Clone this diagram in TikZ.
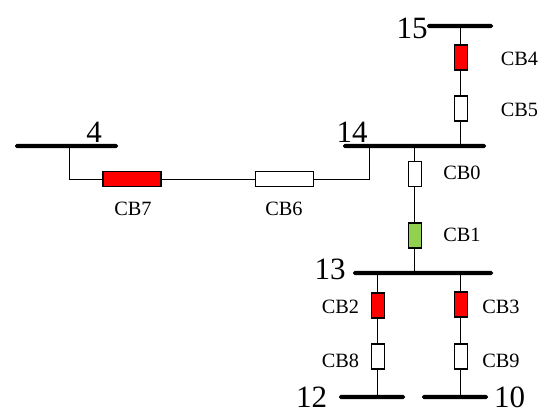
\documentclass[tikz,border=0pt]{standalone}
\usepackage{fontspec}
\setmainfont{Liberation Serif}
\definecolor{cbgreen}{HTML}{92D050}
\tikzset{
  bus/.style={rectangle,fill=black,inner sep=0pt,minimum height=4.4pt,rounded corners=1.8pt},
  vbox/.style={rectangle,draw=black,line width=1.3pt,inner sep=0pt,minimum width=13pt,minimum height=25pt},
  hbox/.style={rectangle,draw=black,line width=1.3pt,inner sep=0pt,minimum width=58pt,minimum height=15pt},
  wire/.style={draw=black,line width=1.3pt},
  cblabel/.style={inner sep=0pt,font=\fontsize{20.3}{22}\selectfont},
  buslabel/.style={inner sep=0pt,font=\fontsize{31}{33}\selectfont},
}
\begin{document}
\begin{tikzpicture}[x=1pt,y=-1pt]
\useasboundingbox (0,0) rectangle (550,418);
\node[bus,minimum width=66pt] (b15) at (460,26) {};
\node[bus,minimum width=143pt] (b14) at (414.5,146) {};
\node[bus,minimum width=140pt] (b13) at (423,273) {};
\node[bus,minimum width=66pt] (b12) at (372,397) {};
\node[bus,minimum width=66pt] (b10) at (455,397) {};
\node[bus,minimum width=103pt] (b4) at (66.5,146) {};
\node[vbox,fill=red] (cb4) at (460.8,57.5) {};
\node[vbox,fill=white] (cb5) at (460.8,108.5) {};
\node[vbox,fill=white] (cb0) at (414.8,174) {};
\node[vbox,fill=cbgreen] (cb1) at (414.8,235.5) {};
\node[vbox,fill=red] (cb2) at (377.8,305.5) {};
\node[vbox,fill=red] (cb3) at (460.8,304.5) {};
\node[vbox,fill=white] (cb8) at (377.8,356.5) {};
\node[vbox,fill=white] (cb9) at (460.8,356.5) {};
\node[hbox,fill=red] (cb7) at (132,179.2) {};
\node[hbox,fill=white] (cb6) at (284.5,179.2) {};
\coordinate (c4) at (69.5,179.2);
\coordinate (c14) at (369.8,179.2);
\draw[wire] (cb4.north) -- (cb4.north |- b15.south);
\draw[wire] (cb4) -- (cb5);
\draw[wire] (cb5.south) -- (cb5.south |- b14.north);
\draw[wire] (cb0.north) -- (cb0.north |- b14.south);
\draw[wire] (cb0) -- (cb1);
\draw[wire] (cb1.south) -- (cb1.south |- b13.north);
\draw[wire] (cb2.north) -- (cb2.north |- b13.south);
\draw[wire] (cb2) -- (cb8);
\draw[wire] (cb8.south) -- (cb8.south |- b12.north);
\draw[wire] (cb3.north) -- (cb3.north |- b13.south);
\draw[wire] (cb3) -- (cb9);
\draw[wire] (cb9.south) -- (cb9.south |- b10.north);
\draw[wire] (cb7.west) -- (c4) -- (c4 |- b4.south);
\draw[wire] (cb7) -- (cb6);
\draw[wire] (cb6.east) -- (c14) -- (c14 |- b14.south);
\node[cblabel] (lcb4) at (519.5,59) {CB4};
\node[cblabel] (lcb5) at (519.5,110) {CB5};
\node[cblabel] (lcb0) at (462,173) {CB0};
\node[cblabel] (lcb1) at (462,234.5) {CB1};
\node[cblabel] (lcb2) at (340.5,307) {CB2};
\node[cblabel] (lcb3) at (501,307) {CB3};
\node[cblabel] (lcb8) at (340.5,360.5) {CB8};
\node[cblabel] (lcb9) at (501,360.5) {CB9};
\node[cblabel] (lcb7) at (133,209) {CB7};
\node[cblabel] (lcb6) at (284,209) {CB6};
\node[buslabel] (l15) at (412,28) {15};
\node[buslabel] (l14) at (352,132) {14};
\node[buslabel] (l13) at (330,269.5) {13};
\node[buslabel] (l12) at (311.5,397) {12};
\node[buslabel] (l10) at (509.5,397) {10};
\node[buslabel] (l4) at (94,132.5) {4};
\end{tikzpicture}
\end{document}
